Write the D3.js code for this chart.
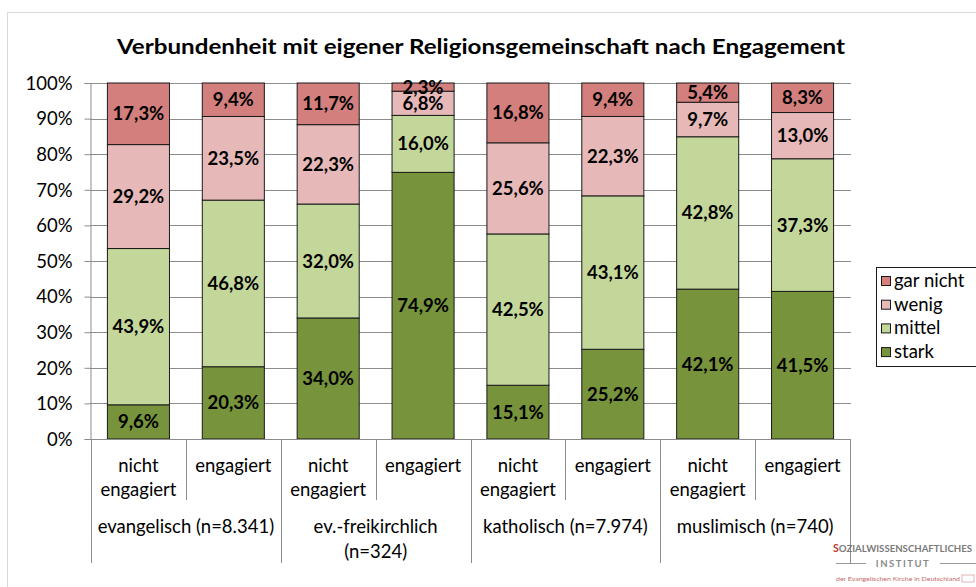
<!DOCTYPE html>
<html><head><meta charset="utf-8">
<script src="https://cdn.jsdelivr.net/npm/d3@7"></script>
<style>body{margin:0;background:#fff;} svg{display:block;font-family:Lato,"Open Sans",sans-serif;}</style>
</head><body>
<svg id="c" width="976" height="587"></svg>
<script>
const categories = ["nicht engagiert","engagiert","nicht engagiert","engagiert","nicht engagiert","engagiert","nicht engagiert","engagiert"];
const groups = [["evangelisch (n=8.341)"],["ev.-freikirchlich","(n=324)"],["katholisch (n=7.974)"],["muslimisch (n=740)"]];
const seriesNames = ["stark","mittel","wenig","gar nicht"];
const stark    = [9.6, 20.3, 34.0, 74.9, 15.1, 25.2, 42.1, 41.5];
const mittel   = [43.9, 46.8, 32.0, 16.0, 42.5, 43.1, 42.8, 37.3];
const wenig    = [29.2, 23.5, 22.3, 6.8, 25.6, 22.3, 9.7, 13.0];
const garNicht = [17.3, 9.4, 11.7, 2.3, 16.8, 9.4, 5.4, 8.3];
const yTicks = [0,10,20,30,40,50,60,70,80,90,100];
const colors = ["#77933C","#C4D79B","#E6B9B8","#D27F7D"];

const svg = d3.select("#c");
const series = [stark, mittel, wenig, garNicht];
const rows = categories.map((c,i)=>{
  const o = {i};
  const tot = series.reduce((s,a)=>s+a[i],0);
  seriesNames.forEach((n,k)=>{ o[n] = series[k][i]/tot*100; });
  return o;
});
const stack = d3.stack().keys(seriesNames)(rows);

const x = d3.scaleBand().domain(d3.range(categories.length)).range([91,850]).paddingInner(0.346).paddingOuter(0.173);
const y = d3.scaleLinear().domain([0,100]).range([439,83]);
const FS = 18.5;

// frame
svg.append("rect").attr("x",7.5).attr("y",12.5).attr("width",1000).attr("height",600).attr("fill","none").attr("stroke","#d9d9d9");

// title
svg.append("text").attr("x",481).attr("y",54).attr("text-anchor","middle").attr("font-weight","bold").attr("font-size",21).attr("fill","#000")
  .attr("textLength",728).attr("lengthAdjust","spacingAndGlyphs")
  .text("Verbundenheit mit eigener Religionsgemeinschaft nach Engagement");

// gridlines
svg.append("g").selectAll("line").data(yTicks.filter(t=>t>0)).join("line")
  .attr("x1",90).attr("x2",851).attr("y1",d=>Math.round(y(d))+0.5).attr("y2",d=>Math.round(y(d))+0.5)
  .attr("stroke","#8c8c8c").attr("stroke-width",1);

// y axis
const ya = svg.append("g").attr("transform","translate(90.5,0)")
  .call(d3.axisLeft(y).tickValues(yTicks).tickSize(6).tickPadding(12).tickFormat(d=>d+"%"));
ya.select(".domain").attr("stroke","#8c8c8c");
ya.selectAll(".tick line").attr("stroke","#8c8c8c");
ya.selectAll("text").attr("font-size",FS).attr("fill","#000").attr("font-family","Lato,sans-serif").attr("dy","0.34em");

// bars
const g = svg.append("g");
stack.forEach((s,k)=>{
  g.append("g").selectAll("rect").data(s).join("rect")
    .attr("x",(d,i)=>x(i)).attr("width",x.bandwidth())
    .attr("y",d=>y(d[1])).attr("height",d=>y(d[0])-y(d[1]))
    .attr("fill",colors[k]).attr("stroke","#1a1a1a").attr("stroke-width",1);
});
stack.forEach((s,k)=>{
  g.append("g").selectAll("text").data(s).join("text")
    .attr("x",(d,i)=>x(i)+x.bandwidth()/2)
    .attr("y",d=>(y(d[0])+y(d[1]))/2+6.5)
    .attr("text-anchor","middle").attr("font-weight","bold").attr("font-size",18.5).attr("fill","#000")
    .text((d,i)=>d3.format(".1f")(series[k][i]).replace(".",",")+"%");
});

// x axis
svg.append("line").attr("x1",90).attr("x2",851).attr("y1",439.5).attr("y2",439.5).attr("stroke","#8c8c8c");
const stepW = x.step();
const x0 = 91;
for(let i=0;i<=categories.length;i++){
  const xx = Math.round(x0+i*stepW)+0.5;
  const outer = i%2===0;
  svg.append("line").attr("x1",xx).attr("x2",xx).attr("y1",439).attr("y2",outer?563:500).attr("stroke","#8c8c8c");
}
categories.forEach((c,i)=>{
  const cx = x(i)+x.bandwidth()/2;
  const parts = c.split(" ");
  parts.forEach((p,j)=>{
    svg.append("text").attr("x",cx).attr("y",472+j*24).attr("text-anchor","middle").attr("font-size",FS).attr("fill","#000").text(p);
  });
});
groups.forEach((gl,i)=>{
  const cx = x0+(2*i+1)*stepW;
  gl.forEach((t,j)=>{
    svg.append("text").attr("x",cx).attr("y",533+j*25).attr("text-anchor","middle").attr("font-size",FS).attr("fill","#000").text(t);
  });
});

// legend
const lg = svg.append("g");
lg.append("rect").attr("x",876.5).attr("y",267.5).attr("width",120).attr("height",99).attr("fill","#fff").attr("stroke","#1a1a1a");
const legItems = ["gar nicht","wenig","mittel","stark"];
const legCols = [colors[3],colors[2],colors[1],colors[0]];
legItems.forEach((n,i)=>{
  const yy = 281+i*23.7;
  lg.append("rect").attr("x",881.5).attr("y",yy-4.5).attr("width",9).attr("height",9).attr("fill",legCols[i]).attr("stroke","#1a1a1a");
  lg.append("text").attr("x",894).attr("y",yy+6).attr("font-size",FS).attr("fill","#000").text(n);
});

// logo
const lo = svg.append("g");
lo.append("text").attr("x",833).attr("y",552).attr("font-size",10).attr("font-weight","bold").attr("fill","#7a7a7a")
  .attr("textLength",139).attr("lengthAdjust","spacingAndGlyphs")
  .html('<tspan fill="#c0392b" font-size="11">S</tspan>OZIALWISSENSCHAFTLICHES');
lo.append("line").attr("x1",836).attr("x2",866).attr("y1",563.5).attr("y2",563.5).attr("stroke","#999");
lo.append("line").attr("x1",940).attr("x2",976).attr("y1",563.5).attr("y2",563.5).attr("stroke","#999");
lo.append("text").attr("x",903).attr("y",567).attr("text-anchor","middle").attr("font-size",9.5).attr("font-weight","bold").attr("fill","#8a8a8a").attr("letter-spacing",1.5).text("INSTITUT");
lo.append("text").attr("x",836).attr("y",581).attr("font-size",6).attr("fill","#c46a6a").attr("textLength",124).attr("lengthAdjust","spacingAndGlyphs").text("der Evangelischen Kirche in Deutschland");
lo.append("rect").attr("x",962).attr("y",575).attr("width",12).attr("height",7).attr("fill","none").attr("stroke","#d9a0a0").attr("stroke-width",0.8);
</script>
</body></html>
